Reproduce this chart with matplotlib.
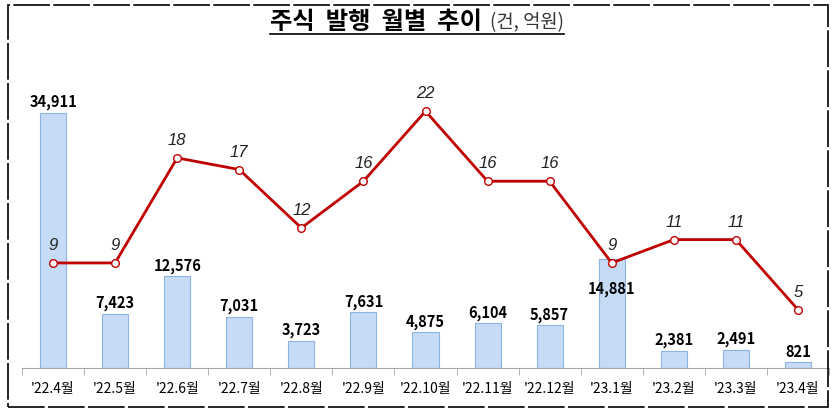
import numpy as np
import matplotlib
matplotlib.use("Agg")
import matplotlib.pyplot as plt
from matplotlib.patches import Rectangle
from matplotlib.lines import Line2D

plt.rcParams['font.family'] = ['Noto Sans CJK KR', 'DejaVu Sans']

months = ["'22.4월", "'22.5월", "'22.6월", "'22.7월", "'22.8월", "'22.9월", "'22.10월",
          "'22.11월", "'22.12월", "'23.1월", "'23.2월", "'23.3월", "'23.4월"]
amount = [34911, 7423, 12576, 7031, 3723, 7631, 4875, 6104, 5857, 14881, 2381, 2491, 821]   # 억원
count = [9, 9, 18, 17, 12, 16, 22, 16, 16, 9, 11, 11, 5]                                     # 건

W, H = 833, 413
fig = plt.figure(figsize=(W / 100, H / 100), dpi=100)
ax = fig.add_axes([22 / W, 45 / H, (829 - 22) / W, 328 / H])
ax2 = ax.twinx()

x = np.arange(len(months))

# bars (amount)
ax.bar(x, amount, width=0.42, color='#C6DBF5', edgecolor='#8DB3E2', linewidth=0.8, zorder=2)
ax.set_xlim(-0.5, len(months) - 0.5)
ax.set_ylim(0, 44870)
for i, v in enumerate(amount):
    off = -21.5 if i == 9 else 7.5   # '23.1 label sits inside the bar
    ax.annotate(f"{v:,}", (i, v), xytext=(0, off), textcoords='offset points',
                ha='center', va='center', fontsize=10.5, fontweight='bold', color='black')

# line (count)
ax2.plot(x, count, color='#C00000', lw=2, marker='o', ms=5.5,
         mfc='white', mec='#C00000', mew=1, zorder=3)
ax2.set_ylim(0, 28.1)
for i, v in enumerate(count):
    ax2.annotate(str(v), (i, v), xytext=(0, 12.5), textcoords='offset points',
                 ha='center', va='center', fontsize=12, style='italic',
                 family=['Liberation Sans', 'DejaVu Sans'], color='#222222')

# axes styling
for a in (ax, ax2):
    for s in ('top', 'left', 'right'):
        a.spines[s].set_visible(False)
    a.set_yticks([])
ax2.spines['bottom'].set_visible(False)
ax.spines['bottom'].set_color('#A6A6A6')
ax.set_xticks(x)
ax.set_xticklabels(months, fontsize=10)
ax.tick_params(axis='x', which='major', length=0, pad=10)
ax.set_xticks(np.arange(len(months) + 1) - 0.5, minor=True)
ax.tick_params(axis='x', which='minor', length=5, color='#A6A6A6')

# title with underline
fig.canvas.draw()
r = fig.canvas.get_renderer()
t1 = fig.text(270 / W, 1 - 22 / H, "주식  발행  월별  추이", fontsize=17.5, fontweight='bold',
              ha='left', va='center')
bb1 = t1.get_window_extent(r)
t2 = fig.text((bb1.x1 + 8) / W, 1 - 23 / H, "(건, 억원)", fontsize=13.5, ha='left',
              va='center', color='#333333')
bb2 = t2.get_window_extent(r)
fig.add_artist(Line2D([270 / W, bb2.x1 / W], [1 - 34 / H, 1 - 34 / H],
                      transform=fig.transFigure, color='black', lw=1.2))

# outer frame
fig.add_artist(Rectangle((8 / W, 6 / H), (828 - 8) / W, (408 - 6) / H, transform=fig.transFigure,
                         fill=False, edgecolor='black', lw=1.2, linestyle=(0, (22, 2))))

fig.savefig("out.png", dpi=100)
